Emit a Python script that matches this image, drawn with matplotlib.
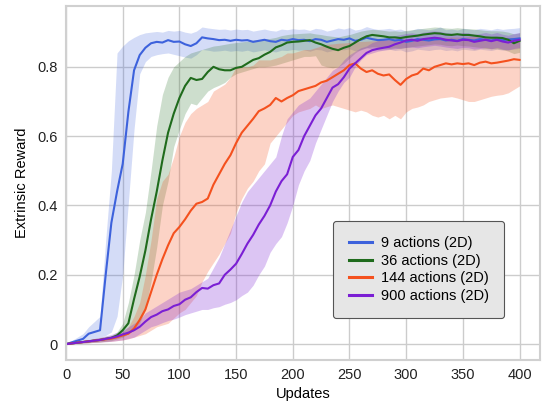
import numpy as np
import matplotlib
matplotlib.use("Agg")
import matplotlib.pyplot as plt
from matplotlib.ticker import FuncFormatter

# ---------------------------
# data
# ---------------------------
updates = np.arange(0, 401, 5)

blue_mean = [0.0, 0.005, 0.01, 0.015, 0.03, 0.035, 0.04, 0.2, 0.35, 0.44,
             0.52, 0.67, 0.79, 0.834, 0.855, 0.868, 0.872, 0.87, 0.877, 0.872,
             0.873, 0.865, 0.86, 0.868, 0.885, 0.882, 0.88, 0.877, 0.878, 0.875,
             0.878, 0.876, 0.877, 0.872, 0.875, 0.878, 0.874, 0.872, 0.878, 0.876,
             0.88, 0.877, 0.878, 0.874, 0.88, 0.878, 0.872, 0.876, 0.88, 0.878,
             0.882, 0.875, 0.878, 0.884, 0.88, 0.877, 0.878, 0.88, 0.876, 0.878,
             0.872, 0.875, 0.88, 0.878, 0.876, 0.879, 0.88, 0.876, 0.878, 0.875,
             0.88, 0.878, 0.876, 0.88, 0.878, 0.876, 0.88, 0.877, 0.879, 0.88,
             0.882]
blue_lo = [0.0, 0.003, 0.005, 0.008, 0.012, 0.015, 0.02, 0.025, 0.035, 0.08,
           0.2, 0.41, 0.62, 0.78, 0.815, 0.83, 0.835, 0.838, 0.84, 0.836,
           0.832, 0.828, 0.825, 0.835, 0.85, 0.848, 0.845, 0.846, 0.848, 0.845,
           0.847, 0.845, 0.848, 0.843, 0.846, 0.849, 0.845, 0.843, 0.848, 0.847,
           0.85, 0.848, 0.849, 0.845, 0.85, 0.849, 0.843, 0.847, 0.85, 0.849,
           0.852, 0.846, 0.849, 0.855, 0.851, 0.848, 0.849, 0.851, 0.847, 0.849,
           0.843, 0.846, 0.851, 0.849, 0.847, 0.85, 0.851, 0.847, 0.849, 0.846,
           0.851, 0.849, 0.847, 0.851, 0.849, 0.847, 0.851, 0.848, 0.85, 0.851,
           0.853]
blue_hi = [0.002, 0.01, 0.02, 0.03, 0.05, 0.065, 0.08, 0.3, 0.5, 0.84,
           0.86, 0.875, 0.885, 0.893, 0.898, 0.9, 0.902, 0.9, 0.905, 0.903,
           0.905, 0.9, 0.897, 0.903, 0.915, 0.912, 0.91, 0.908, 0.909, 0.906,
           0.909, 0.907, 0.908, 0.903, 0.906, 0.909, 0.905, 0.903, 0.909, 0.907,
           0.91, 0.908, 0.909, 0.905, 0.911, 0.909, 0.903, 0.907, 0.912, 0.909,
           0.913, 0.906, 0.909, 0.916, 0.911, 0.908, 0.909, 0.911, 0.907, 0.909,
           0.903, 0.906, 0.911, 0.909, 0.907, 0.91, 0.915, 0.907, 0.909, 0.906,
           0.911, 0.909, 0.907, 0.911, 0.909, 0.907, 0.911, 0.908, 0.91, 0.911,
           0.913]

green_mean = [0.0, 0.002, 0.004, 0.006, 0.008, 0.01, 0.012, 0.015, 0.018, 0.025,
              0.04, 0.06, 0.13, 0.195, 0.27, 0.36, 0.44, 0.53, 0.61, 0.665,
              0.71, 0.745, 0.768, 0.762, 0.765, 0.785, 0.8, 0.793, 0.79, 0.79,
              0.797, 0.8, 0.81, 0.82, 0.825, 0.835, 0.843, 0.856, 0.862, 0.87,
              0.872, 0.873, 0.875, 0.877, 0.87, 0.865, 0.858, 0.852, 0.848, 0.855,
              0.86, 0.87, 0.88, 0.888, 0.892, 0.89, 0.888, 0.885, 0.885, 0.883,
              0.886, 0.888, 0.89, 0.893, 0.895, 0.897, 0.896, 0.893, 0.892, 0.894,
              0.892, 0.892, 0.89, 0.888, 0.885, 0.884, 0.884, 0.883, 0.878, 0.868,
              0.875]
green_lo = [0.0, 0.001, 0.002, 0.003, 0.004, 0.005, 0.006, 0.008, 0.01, 0.015,
            0.02, 0.03, 0.04, 0.06, 0.1, 0.18, 0.28, 0.4, 0.47, 0.57,
            0.62, 0.665, 0.695, 0.69, 0.71, 0.73, 0.74, 0.747, 0.755, 0.77,
            0.78, 0.785, 0.79, 0.795, 0.8, 0.8, 0.802, 0.805, 0.81, 0.815,
            0.82, 0.825, 0.83, 0.83, 0.832, 0.805, 0.8, 0.797, 0.8, 0.81,
            0.825, 0.84, 0.85, 0.855, 0.858, 0.857, 0.855, 0.853, 0.855, 0.853,
            0.856, 0.858, 0.86, 0.862, 0.864, 0.866, 0.865, 0.862, 0.861, 0.863,
            0.861, 0.86, 0.858, 0.856, 0.853, 0.852, 0.852, 0.85, 0.845, 0.838,
            0.842]
green_hi = [0.001, 0.004, 0.007, 0.01, 0.013, 0.016, 0.019, 0.022, 0.025, 0.035,
            0.06, 0.12, 0.2, 0.3, 0.38, 0.5, 0.63, 0.72, 0.77, 0.8,
            0.815, 0.83, 0.84, 0.845, 0.85, 0.855, 0.86, 0.862, 0.865, 0.868,
            0.87, 0.872, 0.874, 0.877, 0.878, 0.88, 0.882, 0.885, 0.89, 0.893,
            0.895, 0.896, 0.897, 0.898, 0.895, 0.893, 0.89, 0.888, 0.886, 0.89,
            0.893, 0.898, 0.903, 0.906, 0.908, 0.907, 0.905, 0.903, 0.904, 0.902,
            0.905, 0.907, 0.909, 0.911, 0.913, 0.915, 0.914, 0.912, 0.911, 0.913,
            0.911, 0.91, 0.909, 0.907, 0.905, 0.904, 0.904, 0.903, 0.9, 0.895,
            0.898]

orange_mean = [0.0, 0.002, 0.004, 0.006, 0.008, 0.01, 0.012, 0.014, 0.016, 0.02,
               0.025, 0.03, 0.045, 0.07, 0.1, 0.15, 0.2, 0.245, 0.285, 0.32,
               0.338, 0.36, 0.385, 0.405, 0.41, 0.42, 0.46, 0.49, 0.52, 0.545,
               0.58, 0.61, 0.63, 0.65, 0.672, 0.68, 0.69, 0.71, 0.7, 0.71,
               0.718, 0.73, 0.735, 0.74, 0.745, 0.755, 0.76, 0.77, 0.78, 0.79,
               0.805, 0.81, 0.795, 0.785, 0.79, 0.78, 0.775, 0.778, 0.762, 0.748,
               0.765, 0.775, 0.78, 0.795, 0.79, 0.8, 0.805, 0.81, 0.807, 0.81,
               0.808, 0.81, 0.805, 0.812, 0.815, 0.81, 0.812, 0.815, 0.818, 0.822,
               0.82]
orange_lo = [0.0, 0.001, 0.002, 0.003, 0.004, 0.005, 0.006, 0.007, 0.008, 0.01,
             0.012, 0.015, 0.02, 0.025, 0.03, 0.04, 0.05, 0.055, 0.06, 0.075,
             0.09, 0.1, 0.12, 0.14, 0.18, 0.21, 0.235, 0.26, 0.29, 0.32,
             0.38, 0.42, 0.45, 0.47, 0.5, 0.52, 0.58, 0.6, 0.62, 0.64,
             0.66, 0.67, 0.675, 0.68, 0.69, 0.68, 0.685, 0.69, 0.685, 0.68,
             0.675, 0.67, 0.675, 0.67, 0.66, 0.655, 0.66, 0.65, 0.66, 0.65,
             0.67, 0.68, 0.684, 0.69, 0.7, 0.705, 0.71, 0.712, 0.714, 0.71,
             0.705, 0.7, 0.7, 0.705, 0.71, 0.715, 0.718, 0.72, 0.725, 0.735,
             0.745]
orange_hi = [0.002, 0.004, 0.006, 0.009, 0.012, 0.015, 0.018, 0.021, 0.024, 0.03,
             0.035, 0.05, 0.08, 0.12, 0.2, 0.3, 0.42, 0.47, 0.49, 0.54,
             0.6, 0.64, 0.665, 0.68, 0.69, 0.7, 0.73, 0.74, 0.75, 0.77,
             0.8, 0.8, 0.8, 0.805, 0.82, 0.82, 0.82, 0.825, 0.83, 0.84,
             0.84, 0.845, 0.85, 0.85, 0.855, 0.86, 0.865, 0.866, 0.868, 0.869,
             0.87, 0.872, 0.873, 0.874, 0.875, 0.876, 0.877, 0.878, 0.879, 0.88,
             0.88, 0.881, 0.882, 0.882, 0.883, 0.884, 0.885, 0.885, 0.886, 0.886,
             0.886, 0.887, 0.887, 0.887, 0.886, 0.886, 0.886, 0.885, 0.885, 0.885,
             0.885]

purple_mean = [0.0, 0.002, 0.004, 0.006, 0.008, 0.01, 0.012, 0.015, 0.018, 0.022,
               0.028, 0.033, 0.04, 0.05, 0.065, 0.078, 0.085, 0.095, 0.1, 0.11,
               0.115, 0.128, 0.135, 0.15, 0.162, 0.16, 0.17, 0.175, 0.2, 0.215,
               0.232, 0.26, 0.29, 0.315, 0.345, 0.37, 0.4, 0.44, 0.47, 0.49,
               0.54, 0.56, 0.6, 0.63, 0.66, 0.68, 0.71, 0.74, 0.75, 0.77,
               0.795, 0.81, 0.825, 0.84, 0.848, 0.852, 0.855, 0.858, 0.865, 0.87,
               0.876, 0.878, 0.875, 0.88, 0.882, 0.884, 0.882, 0.878, 0.876, 0.874,
               0.878, 0.877, 0.872, 0.875, 0.878, 0.874, 0.878, 0.873, 0.87, 0.875,
               0.878]
purple_lo = [0.0, 0.001, 0.002, 0.003, 0.004, 0.005, 0.006, 0.007, 0.008, 0.01,
             0.012, 0.016, 0.02, 0.03, 0.04, 0.05, 0.055, 0.062, 0.068, 0.072,
             0.078, 0.085, 0.09, 0.095, 0.1, 0.1, 0.105, 0.108, 0.115, 0.12,
             0.128, 0.14, 0.15, 0.17, 0.2, 0.225, 0.265, 0.29, 0.31, 0.35,
             0.4, 0.46, 0.5, 0.53, 0.58, 0.62, 0.66, 0.7, 0.73, 0.755,
             0.77, 0.8, 0.82, 0.835, 0.84, 0.845, 0.848, 0.85, 0.852, 0.854,
             0.856, 0.857, 0.855, 0.858, 0.86, 0.862, 0.86, 0.857, 0.855, 0.853,
             0.856, 0.855, 0.851, 0.853, 0.856, 0.852, 0.856, 0.851, 0.848, 0.853,
             0.856]
purple_hi = [0.002, 0.004, 0.007, 0.01, 0.013, 0.016, 0.02, 0.024, 0.028, 0.034,
             0.04, 0.05, 0.06, 0.07, 0.09, 0.1, 0.11, 0.12, 0.13, 0.14,
             0.15, 0.155, 0.16, 0.17, 0.18, 0.19, 0.22, 0.25, 0.29, 0.33,
             0.37, 0.41, 0.44, 0.46, 0.48, 0.5, 0.52, 0.54, 0.6, 0.65,
             0.67, 0.69, 0.7, 0.71, 0.73, 0.75, 0.77, 0.79, 0.8, 0.82,
             0.835, 0.845, 0.855, 0.86, 0.87, 0.875, 0.88, 0.885, 0.89, 0.893,
             0.896, 0.898, 0.895, 0.9, 0.902, 0.904, 0.902, 0.899, 0.897, 0.895,
             0.899, 0.898, 0.894, 0.896, 0.899, 0.895, 0.899, 0.894, 0.891, 0.896,
             0.899]

labels = ["9 actions (2D)", "36 actions (2D)", "144 actions (2D)", "900 actions (2D)"]
line_colors = ["#3d62dc", "#1f6b1c", "#f4511e", "#7b1fd4"]
fill_alphas = [0.22, 0.22, 0.25, 0.26]

series = [
    (blue_mean, blue_lo, blue_hi),
    (green_mean, green_lo, green_hi),
    (orange_mean, orange_lo, orange_hi),
    (purple_mean, purple_lo, purple_hi),
]

# ---------------------------
# plot
# ---------------------------
plt.rcParams["font.family"] = ["Liberation Sans", "DejaVu Sans"]

fig = plt.figure(figsize=(5.42, 4.11), dpi=100)
ax = fig.add_axes([0.1218, 0.124, 0.8745, 0.861])

for (m, lo, hi), c, a in zip(series, line_colors, fill_alphas):
    ax.fill_between(updates, lo, hi, color=c, alpha=a, linewidth=0)

for (m, lo, hi), c, lab in zip(series, line_colors, labels):
    ax.plot(updates, m, color=c, lw=1.5, label=lab)

ax.set_xlim(0, 418)
ax.set_ylim(-0.046, 0.975)
ax.set_xticks([0, 50, 100, 150, 200, 250, 300, 350, 400])
ax.set_yticks([0, 0.2, 0.4, 0.6, 0.8])
ax.yaxis.set_major_formatter(FuncFormatter(lambda v, p: f"{v:g}"))
ax.tick_params(length=0, labelsize=10.5, colors="#222222", pad=6)
ax.grid(True, color="#cccccc", lw=1.0)
ax.set_axisbelow(True)
for s in ax.spines.values():
    s.set_color("#d0d0d0")
    s.set_linewidth(1.5)

ax.set_xlabel("Updates", fontsize=10.5, labelpad=3)
ax.set_ylabel("Extrinsic Reward", fontsize=10.5, labelpad=6)

leg = ax.legend(loc="lower right", bbox_to_anchor=(0.924, 0.119), fontsize=10.5,
                frameon=True, fancybox=True, handlelength=1.6, handletextpad=0.6,
                borderpad=1.05, labelspacing=0.24, borderaxespad=0)
leg.get_frame().set_facecolor("#e6e6e6")
leg.get_frame().set_edgecolor("#555555")
leg.get_frame().set_alpha(1.0)
leg.get_frame().set_linewidth(0.8)
for h in leg.get_lines():
    h.set_linewidth(2.2)

fig.savefig("out.png", dpi=100)
